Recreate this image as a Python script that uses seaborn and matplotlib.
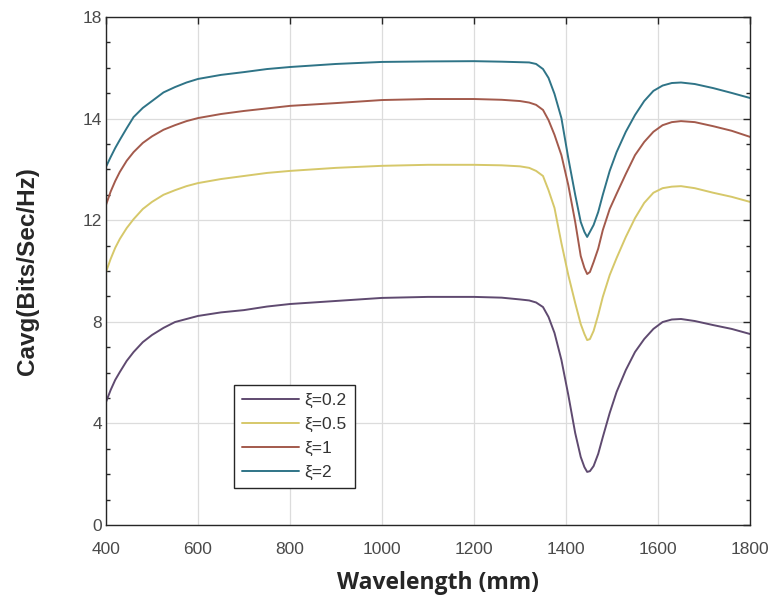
import numpy as np
import pandas as pd
import matplotlib
matplotlib.use("Agg")
import matplotlib.pyplot as plt
import seaborn as sns

# Wavelength samples (mm)
wavelength = [400, 410, 420, 430, 445, 460, 480, 500, 525, 550, 575, 600, 650, 700, 750, 800,
              900, 1000, 1100, 1200, 1260, 1300,
              1320, 1335, 1350, 1362, 1375, 1390, 1405, 1420, 1432, 1440,
              1446, 1452, 1460, 1470, 1480, 1495, 1510, 1530, 1550, 1570,
              1590, 1610, 1630, 1650, 1680, 1720, 1760, 1800]

# Average capacity (Bits/Sec/Hz) for each xi
cap_xi_02 = [4.84, 5.31, 5.71, 6.02, 6.46, 6.81, 7.20, 7.48, 7.76, 7.99, 8.11, 8.23, 8.37, 8.46, 8.60, 8.70,
             8.82, 8.94, 8.98, 8.98, 8.95, 8.88,
             8.84, 8.76, 8.58, 8.19, 7.56, 6.50, 5.12, 3.62, 2.68, 2.28,
             2.09, 2.12, 2.32, 2.80, 3.46, 4.41, 5.24, 6.10, 6.81, 7.32,
             7.72, 7.99, 8.09, 8.11, 8.03, 7.87, 7.72, 7.52]
cap_xi_05 = [9.96, 10.47, 10.91, 11.26, 11.69, 12.02, 12.22, 12.36, 12.50, 12.59, 12.67, 12.73, 12.81, 12.87, 12.93, 12.97,
             13.03, 13.07, 13.09, 13.09, 13.08, 13.06,
             13.03, 12.97, 12.87, 12.59, 12.24, 11.10, 9.84, 8.74, 7.91, 7.52,
             7.28, 7.32, 7.64, 8.27, 8.98, 9.84, 10.51, 11.34, 12.04, 12.34,
             12.54, 12.63, 12.66, 12.67, 12.63, 12.54, 12.46, 12.36]
cap_xi_1 = [12.30, 12.56, 12.77, 12.95, 13.17, 13.34, 13.52, 13.65, 13.78, 13.87, 13.95, 14.02, 14.18, 14.30, 14.40, 14.50,
            14.61, 14.73, 14.77, 14.77, 14.74, 14.69,
            14.63, 14.54, 14.34, 13.97, 13.68, 13.28, 12.69, 11.93, 10.59, 10.12,
            9.88, 9.96, 10.35, 10.88, 11.61, 12.22, 12.52, 12.91, 13.28, 13.54,
            13.74, 13.87, 13.93, 13.95, 13.93, 13.85, 13.76, 13.64]
cap_xi_2 = [13.05, 13.24, 13.42, 13.58, 13.81, 14.06, 14.42, 14.69, 15.03, 15.24, 15.42, 15.56, 15.72, 15.83, 15.95, 16.03,
            16.15, 16.23, 16.25, 16.26, 16.24, 16.22,
            16.21, 16.15, 15.95, 15.60, 14.97, 14.02, 13.22, 12.50, 11.93, 11.54,
            11.34, 11.54, 11.81, 12.16, 12.50, 12.97, 13.34, 13.74, 14.14, 14.69,
            15.09, 15.30, 15.40, 15.42, 15.36, 15.20, 15.01, 14.81]

series_labels = ["\u03be=0.2", "\u03be=0.5", "\u03be=1", "\u03be=2"]
series_values = [cap_xi_02, cap_xi_05, cap_xi_1, cap_xi_2]
series_colors = ["#5f4a70", "#d6c86a", "#a35a4c", "#2f7487"]

y_ticks = [0, 4, 8, 12, 14, 18]
y_minor = [1, 2, 3, 5, 6, 7, 9, 10, 11, 12.5, 13, 13.5, 15, 16, 17]
x_ticks = [400, 600, 800, 1000, 1200, 1400, 1600, 1800]

df = pd.concat(
    [pd.DataFrame({"Wavelength": wavelength, "Cavg": vals, "xi": lab})
     for lab, vals in zip(series_labels, series_values)],
    ignore_index=True,
)

sns.set_style("white")
plt.rcParams["font.family"] = ["Liberation Sans", "DejaVu Sans"]

fig = plt.figure(figsize=(7.76, 6.04), dpi=100)
ax = fig.add_axes([0.1366, 0.1308, 0.8299, 0.8411])

# Piecewise-linear y scale: the labelled ticks are evenly spaced
knots_v = np.array([-4.0] + y_ticks + [22.0], dtype=float)
knots_s = np.arange(-1, len(y_ticks) + 1, dtype=float)


def fwd(v):
    return np.interp(v, knots_v, knots_s)


def inv(s):
    return np.interp(s, knots_s, knots_v)


ax.set_yscale("function", functions=(fwd, inv))

sns.lineplot(
    data=df, x="Wavelength", y="Cavg", hue="xi",
    palette=dict(zip(series_labels, series_colors)),
    hue_order=series_labels, linewidth=1.4, ax=ax, legend=False,
)
for ln in ax.get_lines():
    ln.set_solid_joinstyle("round")

ax.set_xlim(400, 1800)
ax.set_ylim(0, 18)
ax.set_xticks(x_ticks)
ax.set_xticklabels([str(t) for t in x_ticks])
ax.set_yticks(y_ticks)
ax.set_yticklabels([str(t) for t in y_ticks])
ax.set_yticks(y_minor, minor=True)
ax.set_xticks([], minor=True)

ax.grid(True, which="major", color="#dcdcdc", linewidth=0.9)
ax.set_axisbelow(True)
for sp in ax.spines.values():
    sp.set_visible(True)
    sp.set_color("#262626")
    sp.set_linewidth(1.0)

ax.tick_params(axis="both", which="major", direction="in", length=5, width=1,
               top=True, right=True, labelsize=12.5, labelcolor="#4a4a4a",
               color="#262626")
ax.tick_params(axis="x", which="major", pad=12)
ax.tick_params(axis="y", which="major", pad=3)
ax.tick_params(axis="y", which="minor", direction="in", length=3, width=1,
               left=True, right=True, color="#262626")

ax.set_xlabel("Wavelength (mm)", fontsize=16.5, fontweight="bold",
              family=["Open Sans", "DejaVu Sans"], labelpad=10)
ax.xaxis.label.set_x(0.515)
ax.set_ylabel("Cavg(Bits/Sec/Hz)", fontsize=17.5, fontweight="bold", labelpad=31)

handles = [plt.Line2D([], [], color=c, linewidth=1.4) for c in series_colors]
leg = ax.legend(handles, series_labels, loc="lower left",
                bbox_to_anchor=(0.199, 0.073), fontsize=12.5, frameon=True,
                fancybox=False, edgecolor="#262626", framealpha=1,
                handlelength=3.3, handletextpad=0.3, labelspacing=0.5,
                borderpad=0.45, borderaxespad=0)
leg.get_frame().set_linewidth(1.0)
for t in leg.get_texts():
    t.set_color("#333333")

fig.savefig("out.png", dpi=100)
